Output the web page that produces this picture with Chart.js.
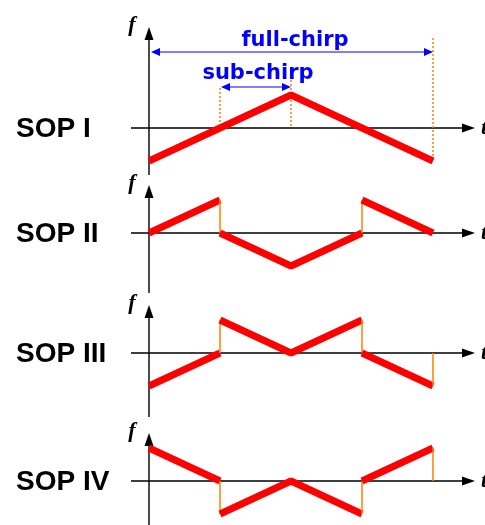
<!DOCTYPE html>
<html>
<head>
<meta charset="utf-8">
<script src="https://cdn.jsdelivr.net/npm/chart.js@4.4.1/dist/chart.umd.min.js"></script>
<style>
  html, body { margin: 0; padding: 0; background: #fff; }
  #wrap { position: relative; width: 485px; height: 525px; overflow: hidden; }
  #wrap canvas { position: absolute; left: 0; }
</style>
</head>
<body>
<div id="wrap"></div>
<script>
// t in sub-chirp units, f normalised to the sub-chirp excursion
const sop1T = [0, 1, 2, 3, 4];
const sop1F = [-1, 0, 1, 0, -1];
const sop2T = [0, 1, 1, 2, 3, 3, 4];
const sop2F = [0, 1, 0, -1, 0, 1, 0];
const sop3T = [0, 1, 1, 2, 3, 3, 4, 4];
const sop3F = [-1, 0, 1, 0, 1, 0, -1, 0];
const sop4T = [0, 1, 1, 2, 3, 3, 4, 4];
const sop4F = [1, 0, -1, 0, -1, 0, 1, 0];
const sopNames = ["SOP I", "SOP II", "SOP III", "SOP IV"];
const fullChirp = [0, 4];
const subChirp = [1, 2];

const sopT = [sop1T, sop2T, sop3T, sop4T];
const sopF = [sop1F, sop2F, sop3F, sop4F];

// panel geometry (pixels); canvases overlap a little so labels are not clipped
const panels = [
  { top: 0, height: 180, axisY: 128, up: 101, down: 47 },
  { top: 168, height: 127, axisY: 65, up: 48, down: 60 },
  { top: 283, height: 137, axisY: 70, up: 48, down: 64 },
  { top: 408, height: 117, axisY: 73, up: 48, down: 44 },
];
const W = 485, X0 = 149, UNIT_T = 71, UNIT_F = 33;
const RED = "#ff0000", ORANGE = "#ff8000", BLUE = "#0000ff";

function head(ctx, x, y, ang, len, half) {
  ctx.save();
  ctx.translate(x, y);
  ctx.rotate(ang);
  ctx.beginPath();
  ctx.moveTo(0, 0);
  ctx.lineTo(-len, -half);
  ctx.lineTo(-len, half);
  ctx.closePath();
  ctx.fill();
  ctx.restore();
}

const sopDiagram = {
  id: "sopDiagram",
  beforeDatasetsDraw(chart, args, opts) {
    const ctx = chart.ctx;
    const xs = chart.scales.x, ys = chart.scales.y;
    const ax = xs.getPixelForValue(0);
    const ay = ys.getPixelForValue(0);
    const p = opts.panel;

    ctx.save();
    // axes
    ctx.strokeStyle = "#000";
    ctx.fillStyle = "#000";
    ctx.lineWidth = 1.4;
    ctx.beginPath();
    ctx.moveTo(131, ay);
    ctx.lineTo(464, ay);
    ctx.moveTo(ax, ay + p.down);
    ctx.lineTo(ax, ay - p.up + 10);
    ctx.stroke();
    head(ctx, 475, ay, 0, 13, 4.5);
    head(ctx, ax, ay - p.up, -Math.PI / 2, 13, 4.5);

    ctx.font = 'italic bold 22px "Liberation Serif"';
    ctx.textBaseline = "middle";
    ctx.textAlign = "center";
    ctx.fillText("f", 132, ay - p.up - 2);
    ctx.textAlign = "left";
    ctx.fillText("t", 481, ay);

    ctx.font = 'bold 28px "Liberation Sans"';
    ctx.fillText(opts.label, 16, ay + 1);

    if (opts.annotate) {
      // dotted markers
      ctx.strokeStyle = ORANGE;
      ctx.lineWidth = 1.5;
      ctx.setLineDash([2, 2]);
      const xs1 = xs.getPixelForValue(subChirp[0]);
      const xs2 = xs.getPixelForValue(subChirp[1]);
      const xf2 = xs.getPixelForValue(fullChirp[1]);
      ctx.beginPath();
      ctx.moveTo(xs1, 88); ctx.lineTo(xs1, ay);
      ctx.moveTo(xs2, 80); ctx.lineTo(xs2, ay);
      ctx.moveTo(xf2, 38); ctx.lineTo(xf2, ys.getPixelForValue(-1));
      ctx.stroke();
      ctx.setLineDash([]);

      // double arrows
      ctx.strokeStyle = BLUE;
      ctx.fillStyle = BLUE;
      ctx.lineWidth = 1;
      const xf1 = xs.getPixelForValue(fullChirp[0]);
      [[xf1 + 2, xf2, 52], [xs1 + 1, xs2, 87]].forEach(([a, b, y]) => {
        ctx.beginPath();
        ctx.moveTo(a + 4, y);
        ctx.lineTo(b - 4, y);
        ctx.stroke();
        head(ctx, a, y, Math.PI, 9, 4);
        head(ctx, b, y, 0, 9, 4);
      });
      ctx.font = 'bold 21px "DejaVu Sans"';
      ctx.textAlign = "center";
      ctx.textBaseline = "alphabetic";
      ctx.fillText("full-chirp", 295, 46);
      ctx.fillText("sub-chirp", 258, 79);
    }
    ctx.restore();
  },
};

const isJump = (c) => c.p0.parsed.x === c.p1.parsed.x;

panels.forEach((p, i) => {
  const canvas = document.createElement("canvas");
  canvas.width = W;
  canvas.height = p.height;
  canvas.style.top = p.top + "px";
  document.getElementById("wrap").appendChild(canvas);

  new Chart(canvas, {
    type: "line",
    data: {
      datasets: [{
        data: sopT[i].map((t, k) => ({ x: t, y: sopF[i][k] })),
        borderColor: RED,
        borderWidth: 7,
        borderJoinStyle: "bevel",
        borderCapStyle: "butt",
        pointRadius: 0,
        tension: 0,
        segment: {
          borderColor: (c) => (isJump(c) ? ORANGE : undefined),
          borderWidth: (c) => (isJump(c) ? 1.5 : undefined),
        },
      }],
    },
    options: {
      responsive: false,
      animation: false,
      events: [],
      layout: { padding: 0 },
      scales: {
        x: { type: "linear", display: false, min: -X0 / UNIT_T, max: (W - X0) / UNIT_T },
        y: { type: "linear", display: false, min: -(p.height - p.axisY) / UNIT_F, max: p.axisY / UNIT_F },
      },
      plugins: {
        legend: { display: false },
        tooltip: { enabled: false },
        sopDiagram: { label: sopNames[i], panel: p, annotate: i === 0 },
      },
    },
    plugins: [sopDiagram],
  });
});
</script>
</body>
</html>
